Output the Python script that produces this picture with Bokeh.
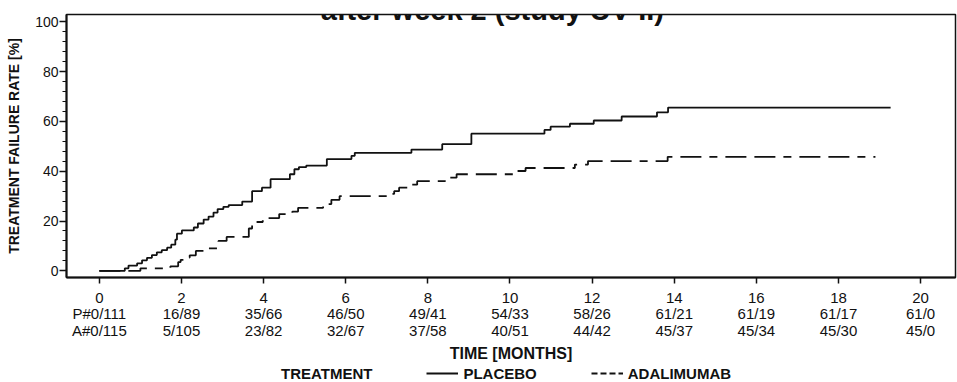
from bokeh.plotting import figure
from bokeh.layouts import column
from bokeh.models import (FixedTicker, SingleIntervalTicker, Label, Legend, LegendItem)
from bokeh.embed import file_html
from bokeh.resources import INLINE

# Kaplan-Meier treatment failure estimates (months, cumulative %)
placebo_months = [0, 0.62, 0.71, 0.92, 1.04, 1.16, 1.28, 1.40, 1.52, 1.65, 1.75, 1.85, 1.89,
                  2.01, 2.30, 2.40, 2.54, 2.66, 2.78, 2.88, 3.02, 3.15, 3.48, 3.72, 3.96, 4.17,
                  4.64, 4.75, 4.86, 5.04, 5.54, 6.14, 6.22, 7.60, 8.35, 9.06, 10.84, 10.99,
                  11.46, 12.04, 12.72, 13.58, 13.85, 19.27]
placebo_rate = [0, 1.0, 2.1, 3.0, 4.2, 5.2, 6.3, 7.4, 8.3, 9.3, 10.5, 12.5, 14.9,
                16.2, 17.4, 19.0, 20.6, 21.8, 23.4, 24.8, 25.7, 26.4, 27.8, 32.0, 33.4, 36.8,
                38.8, 40.8, 41.7, 42.3, 44.9, 46.2, 47.4, 48.7, 50.9, 55.1, 56.6, 57.9,
                59.1, 60.4, 62.0, 63.7, 65.6, 65.6]

adalimumab_months = [0, 1.00, 1.73, 1.92, 1.98, 2.08, 2.20, 2.35, 2.60, 2.90, 3.10, 3.64, 3.72,
                     3.98, 4.38, 4.70, 4.84, 5.45, 5.65, 5.85, 7.08, 7.18, 7.30, 7.50, 7.74,
                     8.42, 8.70, 10.12, 10.38, 11.58, 11.90, 13.84, 18.90]
adalimumab_rate = [0, 1.0, 1.8, 3.5, 4.4, 5.3, 6.2, 8.0, 9.0, 12.0, 13.6, 17.0, 19.6,
                   21.2, 22.8, 23.8, 25.3, 26.8, 28.5, 30.0, 30.9, 32.0, 33.4, 34.6, 36.0,
                   37.4, 38.8, 40.1, 41.3, 42.7, 44.1, 45.8, 45.8]

# Number of events / number at risk
tick_months = [0, 2, 4, 6, 8, 10, 12, 14, 16, 18, 20]
placebo_at_risk = ["P#0/111", "16/89", "35/66", "46/50", "49/41", "54/33",
                   "58/26", "61/21", "61/19", "61/17", "61/0"]
adalimumab_at_risk = ["A#0/115", "5/105", "23/82", "32/67", "37/58", "40/51",
                      "44/42", "45/37", "45/34", "45/30", "45/0"]

FONT = "Liberation Sans"
INK = "#111111"
NAN = float("nan")

p = figure(width=957, height=364, x_range=(-0.8, 20.85), y_range=(-2.7, 103),
           output_backend="svg", toolbar_location=None,
           min_border_left=66, min_border_right=2, min_border_top=14, min_border_bottom=85)
p.grid.visible = False
p.background_fill_color = "white"
p.border_fill_color = "white"
p.outline_line_color = INK
p.outline_line_width = 1.5

# y axis
p.yaxis.ticker = SingleIntervalTicker(interval=20, num_minor_ticks=5)
p.yaxis.axis_label = "TREATMENT FAILURE RATE [%]"
p.yaxis.axis_label_text_font = FONT
p.yaxis.axis_label_text_font_style = "bold"
p.yaxis.axis_label_text_font_size = "14px"
p.yaxis.axis_label_text_color = INK
p.yaxis.axis_label_standoff = 10
p.yaxis.major_label_text_font = FONT
p.yaxis.major_label_text_font_size = "14px"
p.yaxis.major_label_text_color = INK
p.yaxis.major_label_standoff = 1
p.yaxis.axis_line_width = 2
p.yaxis.axis_line_color = INK
p.yaxis.major_tick_out = 7
p.yaxis.major_tick_in = 0
p.yaxis.minor_tick_out = 4
p.yaxis.minor_tick_in = 0
p.yaxis.major_tick_line_width = 1.5
p.yaxis.major_tick_line_color = INK
p.yaxis.minor_tick_line_color = INK

# x axis with at-risk rows under each month
p.xaxis.ticker = FixedTicker(ticks=tick_months, minor_ticks=[])
p.xaxis.major_label_overrides = {
    m: f"{m}\n{pa}\n{aa}" for m, pa, aa in zip(tick_months, placebo_at_risk, adalimumab_at_risk)
}
p.xaxis.major_label_text_font = FONT
p.xaxis.major_label_text_font_size = "15px"
p.xaxis.major_label_text_line_height = 0.98
p.xaxis.major_label_text_color = INK
p.xaxis.major_label_standoff = 5
p.xaxis.axis_label = "TIME [MONTHS]"
p.xaxis.axis_label_text_font = FONT
p.xaxis.axis_label_text_font_style = "bold"
p.xaxis.axis_label_text_font_size = "16px"
p.xaxis.axis_label_text_color = INK
p.xaxis.axis_label_standoff = 3
p.xaxis.axis_line_width = 2
p.xaxis.axis_line_color = INK
p.xaxis.major_tick_out = 6
p.xaxis.major_tick_in = 0
p.xaxis.major_tick_line_width = 1.5
p.xaxis.major_tick_line_color = INK

# step curves
p.step(placebo_months, placebo_rate, mode="after", line_color=INK, line_width=1.8)
p.step(adalimumab_months, adalimumab_rate, mode="after", line_color=INK, line_width=1.8,
       line_dash="21 8 21 8 8 8")

p.add_layout(Label(x=9.57, y=104.8, text="after week 2 (study UV II)", text_font=FONT,
                   text_font_style="bold", text_font_size="29px", text_color=INK,
                   text_baseline="alphabetic", text_align="center"))

# legend strip under the chart: heading (no sample), then one sample per arm
key = figure(width=957, height=18, x_range=(0, 957), y_range=(0, 18),
             output_backend="svg", toolbar_location=None,
             x_axis_location=None, y_axis_location=None, min_border=0)
key.grid.visible = False
key.outline_line_color = None
key.background_fill_color = "white"
key.border_fill_color = "white"
s_head = key.line(x=[NAN], y=[NAN], line_alpha=0)
s_p = key.line(x=[NAN], y=[NAN], line_color=INK, line_width=1.8)
s_a = key.line(x=[NAN], y=[NAN], line_color=INK, line_width=1.8, line_dash="6 3")
legend = Legend(items=[LegendItem(label="TREATMENT", renderers=[s_head]),
                       LegendItem(label="PLACEBO", renderers=[s_p]),
                       LegendItem(label="ADALIMUMAB", renderers=[s_a])],
                orientation="horizontal", location=(178, 0),
                border_line_color=None, background_fill_alpha=0,
                padding=0, margin=0, spacing=54, label_standoff=5,
                glyph_width=32, glyph_height=18, label_height=18,
                label_text_font=FONT, label_text_font_style="bold",
                label_text_font_size="15px", label_text_color=INK)
key.add_layout(legend)

open("out.html", "w").write(file_html(column(p, key, spacing=0), INLINE))
